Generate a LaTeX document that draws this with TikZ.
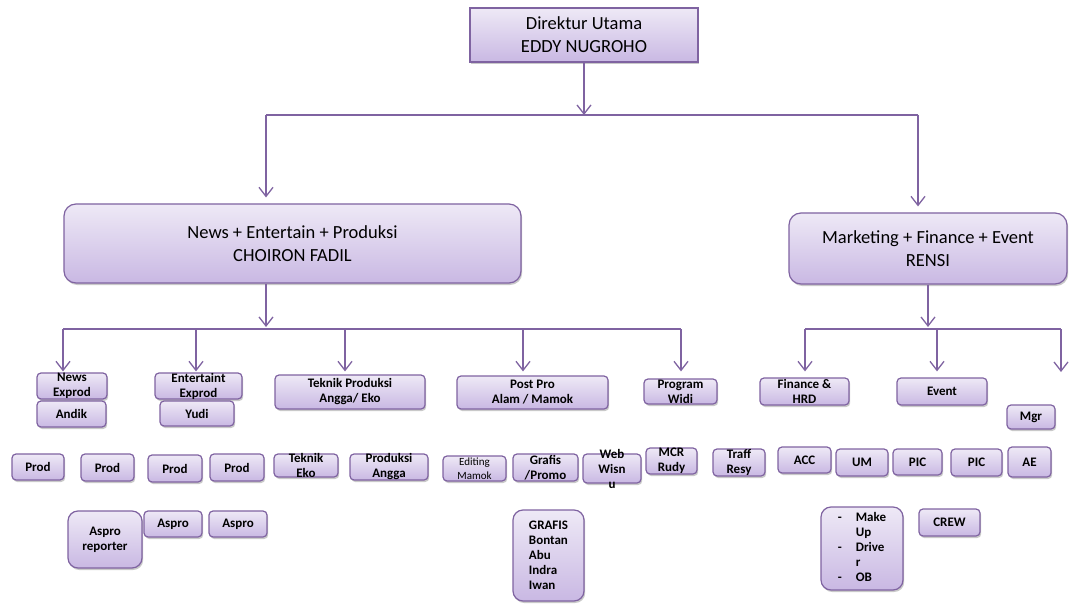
\documentclass[tikz,border=0pt]{standalone}
\usepackage{fontspec}
\setmainfont{Carlito}
\usetikzlibrary{arrows.meta, shadows}
\definecolor{lavline}{HTML}{7F63A1}
\definecolor{lavtop}{HTML}{EEE9F6}
\definecolor{lavbot}{HTML}{C9B8E3}
\tikzset{
  box/.style={draw=lavline, line width=1.2pt, top color=lavtop, bottom color=lavbot,
    drop shadow={shadow xshift=1.2pt, shadow yshift=-2pt, opacity=.3, fill=black!70}, inner sep=0pt},
  sbox/.style={box, rounded corners=4pt},
  rbox/.style={box, rounded corners=10pt},
  bigbox/.style={box, rounded corners=12pt},
  btxt/.style={font=\fontsize{18.5}{23}\selectfont, align=center},
  stxt/.style={font=\fontsize{13}{15}\selectfont\bfseries, align=center},
  conn/.style={draw=lavline, line width=1.3pt, -{Straight Barb[length=9pt,width=14pt]}},
  bus/.style={draw=lavline, line width=1.3pt},
}

\begin{document}
\begin{tikzpicture}[x=1pt, y=-1pt]
        \useasboundingbox (0,0) rectangle (1071,604);
        % Top level
        \node[box, minimum width=228, minimum height=54, btxt] (dir) at (584,35) {Direktur Utama\\EDDY NUGROHO};
        \node[bigbox, minimum width=457, minimum height=79, btxt] (news) at (292.5,243.5) {News + Entertain + Produksi\\CHOIRON FADIL};
        \node[bigbox, minimum width=278, minimum height=71, btxt] (mkt) at (928,248.5) {Marketing + Finance + Event\\RENSI};
        % Second level, left
        \node[sbox, minimum width=70, minimum height=26, label={[stxt]center:News\\Exprod}] (newsx) at (72,386) {};
        \node[sbox, minimum width=69, minimum height=26, label={[stxt]center:Andik}] (andik) at (71.5,414) {};
        \node[sbox, minimum width=87, minimum height=26, label={[stxt]center:Entertaint\\Exprod}] (entx) at (198.5,386) {};
        \node[sbox, minimum width=74, minimum height=25, label={[stxt]center:Yudi}] (yudi) at (197,413.5) {};
        \node[sbox, minimum width=150, minimum height=34, label={[stxt]center:Teknik Produksi\\Angga/ Eko}] (tekprod) at (350,392) {};
        \node[sbox, minimum width=151, minimum height=33, label={[stxt]center:Post Pro\\Alam / Mamok}] (postpro) at (532.5,392.5) {};
        \node[sbox, minimum width=73, minimum height=25, label={[stxt]center:Program\\Widi}] (program) at (680.5,391.5) {};
        % Second level, right
        \node[sbox, minimum width=89, minimum height=27, label={[stxt]center:Finance \&\\HRD}] (finance) at (804.5,391.5) {};
        \node[sbox, minimum width=90, minimum height=27, label={[stxt]center:Event}] (event) at (942,391.5) {};
        \node[sbox, minimum width=48, minimum height=24, label={[stxt]center:Mgr}] (mgr) at (1031,417) {};
        % Staff row
        \node[sbox, minimum width=52, minimum height=26, label={[stxt]center:Prod}] (prod1) at (38,467) {};
        \node[sbox, minimum width=53, minimum height=27, label={[stxt]center:Prod}] (prod2) at (107.5,467.5) {};
        \node[sbox, minimum width=54, minimum height=27, label={[stxt]center:Prod}] (prod3) at (175,468.5) {};
        \node[sbox, minimum width=54, minimum height=27, label={[stxt]center:Prod}] (prod4) at (237,467.5) {};
        \node[sbox, minimum width=64, minimum height=23, label={[stxt]center:Teknik\\Eko}] (tekeko) at (306,465.5) {};
        \node[sbox, minimum width=78, minimum height=26, label={[stxt]center:Produksi\\Angga}] (prodangga) at (389,467) {};
        \node[sbox, minimum width=63, minimum height=25, label={[stxt, font=\fontsize{11}{14}\selectfont]center:Editing\\Mamok}] (editing) at (474.5,468.5) {};
        \node[sbox, minimum width=65, minimum height=27, label={[stxt]center:Grafis\\/Promo}] (grafisp) at (545.5,467.5) {};
        \node[sbox, minimum width=58, minimum height=29, label={[stxt]center:Web\\Wisn\\u}] (web) at (612,468.5) {};
        \node[sbox, minimum width=51, minimum height=26, label={[stxt]center:MCR\\Rudy}] (mcr) at (671.5,461) {};
        \node[sbox, minimum width=52, minimum height=27, label={[stxt]center:Traff\\Resy}] (traff) at (739,462.5) {};
        \node[sbox, minimum width=53, minimum height=26, label={[stxt]center:ACC}] (acc) at (804.5,460) {};
        \node[sbox, minimum width=52, minimum height=27, label={[stxt]center:UM}] (um) at (862,462.5) {};
        \node[sbox, minimum width=49, minimum height=26, label={[stxt]center:PIC}] (pic1) at (917.5,462) {};
        \node[sbox, minimum width=51, minimum height=27, label={[stxt]center:PIC}] (pic2) at (976.5,462.5) {};
        \node[sbox, minimum width=43, minimum height=30, label={[stxt]center:AE}] (ae) at (1029.5,462) {};
        % Bottom row
        \node[rbox, minimum width=74, minimum height=57, label={[stxt]center:Aspro\\reporter}] (asprorep) at (105,539.5) {};
        \node[sbox, minimum width=58, minimum height=26, label={[stxt]center:Aspro}] (aspro1) at (173,524) {};
        \node[sbox, minimum width=58, minimum height=26, label={[stxt]center:Aspro}] (aspro2) at (238,524) {};
        \node[rbox, minimum width=71, minimum height=91, label={[stxt, align=left]center:GRAFIS\\Bontan\\Abu\\Indra\\Iwan}] (grafis) at (548.5,555.5) {};
        \node[rbox, minimum width=82, minimum height=83, label={[stxt]center:\begin{tabular}{@{}l@{\hspace{14pt}}l@{}}-&Make\\&Up\\-&Drive\\&r\\-&OB\end{tabular}}] (makeup) at (862,548.5) {};
        \node[sbox, minimum width=61, minimum height=27, label={[stxt]center:CREW}] (crew) at (949.5,522.5) {};
        % Connectors, top
        \coordinate (t1) at (584,115);
        \coordinate (tl) at (266,115);
        \coordinate (tr) at (918,115);
        \draw[conn] (dir.south) -- (t1);
        \draw[bus] (tl) -- (tr);
        \draw[conn, shorten >=6pt] (tl) -- (tl |- news.north);
        \draw[conn, shorten >=6pt] (tr) -- (tr |- mkt.north);
        % Connectors, left branch
        \coordinate (n1) at (266,329);
        \coordinate (nl) at (63,329);
        \coordinate (nr) at (681,329);
        \coordinate (n2) at (196,329);
        \coordinate (n3) at (345,329);
        \coordinate (n4) at (523,329);
        \draw[conn, shorten >=2pt] (n1 |- news.south) -- (n1);
        \draw[bus] (nl) -- (nr);
        \draw[conn, shorten >=1pt] (nl) -- (nl |- newsx.north);
        \draw[conn, shorten >=1pt] (n2) -- (n2 |- entx.north);
        \draw[conn, shorten >=3pt] (n3) -- (n3 |- tekprod.north);
        \draw[conn, shorten >=4pt] (n4) -- (n4 |- postpro.north);
        \draw[conn, shorten >=7pt] (nr) -- (nr |- program.north);
        % Connectors, right branch
        \coordinate (m1) at (928,329);
        \coordinate (ml) at (805,329);
        \coordinate (mr) at (1061,329);
        \coordinate (m2) at (937,329);
        \coordinate (mend) at (1061,372);
        \draw[conn, shorten >=2pt] (m1 |- mkt.south) -- (m1);
        \draw[bus] (ml) -- (mr);
        \draw[conn, shorten >=6pt] (ml) -- (ml |- finance.north);
        \draw[conn, shorten >=6pt] (m2) -- (m2 |- event.north);
        \draw[conn] (mr) -- (mend);
\end{tikzpicture}
\end{document}
